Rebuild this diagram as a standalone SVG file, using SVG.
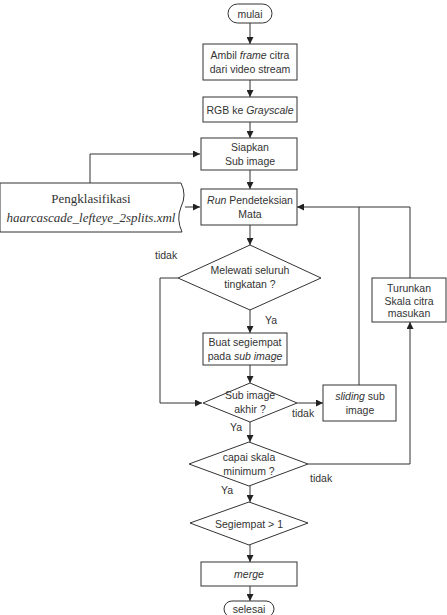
<svg xmlns="http://www.w3.org/2000/svg" width="447" height="615" viewBox="0 0 447 615">
<style>
.s{fill:#fff;stroke:#333;stroke-width:1}
.t{font-family:"Liberation Sans",Arial,sans-serif;font-size:10.5px;fill:#333;text-anchor:middle}
.l{font-family:"Liberation Sans",Arial,sans-serif;font-size:10.5px;fill:#333}
.c{fill:none;stroke:#333;stroke-width:1}
.d{font-family:"Liberation Serif","Times New Roman",serif;font-size:13px;fill:#333;text-anchor:middle}
</style>
<defs>
<marker id="a" viewBox="0 0 10 10" refX="10" refY="5" markerWidth="7" markerHeight="7" markerUnits="userSpaceOnUse" orient="auto">
<path d="M0,0 L10,5 L0,10 z" fill="#222"/>
</marker>
</defs>
<rect width="447" height="615" fill="#fff"/>
<g id="connectors" class="c" marker-end="url(#a)">
<path d="M250,23 V44"/>
<path d="M250,80 V97"/>
<path d="M250,122 V138"/>
<path d="M250,170 V189"/>
<path d="M90,183 V154 H200"/>
<path d="M185,207 H200"/>
<path d="M250,225 V245"/>
<path d="M178,278 H160 V403 H202"/>
<path d="M250,310 V333"/>
<path d="M250,365 V383"/>
<path d="M297,403 H323"/>
<path d="M359,385 V207" marker-end="none"/>
<path d="M410,278 V207 H297"/>
<path d="M250,422 V442"/>
<path d="M308,464 H410 V322"/>
<path d="M250,486 V502"/>
<path d="M250,545 V562"/>
<path d="M250,586 V601"/>
</g>
<g id="mulai"><rect class="s" x="228" y="4" width="44" height="19" rx="9.5"/><text class="t" x="250" y="17.5">mulai</text></g>
<g id="ambil"><rect class="s" x="203" y="44" width="94" height="36"/><text class="t" x="250" y="59">Ambil <tspan font-style="italic">frame</tspan> citra</text><text class="t" x="250" y="73">dari video stream</text></g>
<g id="rgb"><rect class="s" x="203" y="97" width="94" height="25"/><text class="t" x="250" y="113.5">RGB ke <tspan font-style="italic">Grayscale</tspan></text></g>
<g id="siapkan"><rect class="s" x="201" y="138" width="96" height="32"/><text class="t" x="250" y="151">Siapkan</text><text class="t" x="250" y="165">Sub image</text></g>
<g id="run"><rect class="s" x="201" y="189" width="96" height="36"/><text class="t" x="250" y="204"><tspan font-style="italic">Run</tspan> Pendeteksian</text><text class="t" x="250" y="218">Mata</text></g>
<g id="klasifikasi"><path class="s" d="M0,183 H181 Q187,195 181,207 Q176,219 182,232 H0 Z"/><text class="d" x="91" y="203">Pengklasifikasi</text><text class="d" x="91" y="222" font-style="italic">haarcascade_lefteye_2splits.xml</text></g>
<g id="melewati"><path class="s" d="M250,245 L321,278 L250,310 L178,278 Z"/><text class="t" x="250" y="274">Melewati seluruh</text><text class="t" x="250" y="288">tingkatan ?</text></g>
<g id="buat"><rect class="s" x="203" y="333" width="84" height="32"/><text class="t" x="245" y="346">Buat segiempat</text><text class="t" x="245" y="360">pada <tspan font-style="italic">sub image</tspan></text></g>
<g id="subakhir"><path class="s" d="M250,383 L297,403 L250,422 L203,403 Z"/><text class="t" x="250" y="399">Sub image</text><text class="t" x="250" y="413">akhir ?</text></g>
<g id="sliding"><rect class="s" x="323" y="385" width="73" height="36"/><text class="t" x="360" y="400"><tspan font-style="italic">sliding</tspan> sub</text><text class="t" x="360" y="414">image</text></g>
<g id="turunkan"><rect class="s" x="372" y="278" width="74" height="44"/><text class="t" x="409" y="292">Turunkan</text><text class="t" x="409" y="304.5">Skala citra</text><text class="t" x="409" y="317">masukan</text></g>
<g id="capai"><path class="s" d="M249,442 L308,464 L249,486 L189,464 Z"/><text class="t" x="249" y="461">capai skala</text><text class="t" x="249" y="475">minimum ?</text></g>
<g id="segiempat"><path class="s" d="M249,502 L308,523 L249,545 L190,523 Z"/><text class="t" x="249" y="527.5">Segiempat &gt; 1</text></g>
<g id="merge"><rect class="s" x="201" y="562" width="96" height="24"/><text class="t" x="249" y="578" font-style="italic">merge</text></g>
<g id="selesai"><rect class="s" x="224" y="601" width="50" height="16" rx="8"/><text class="t" x="249" y="613">selesai</text></g>
<g id="labels">
<text class="l" x="155" y="259">tidak</text>
<text class="l" x="265" y="324">Ya</text>
<text class="l" x="292" y="417">tidak</text>
<text class="l" x="230" y="431">Ya</text>
<text class="l" x="310" y="482">tidak</text>
<text class="l" x="221" y="494">Ya</text>
</g>
</svg>
